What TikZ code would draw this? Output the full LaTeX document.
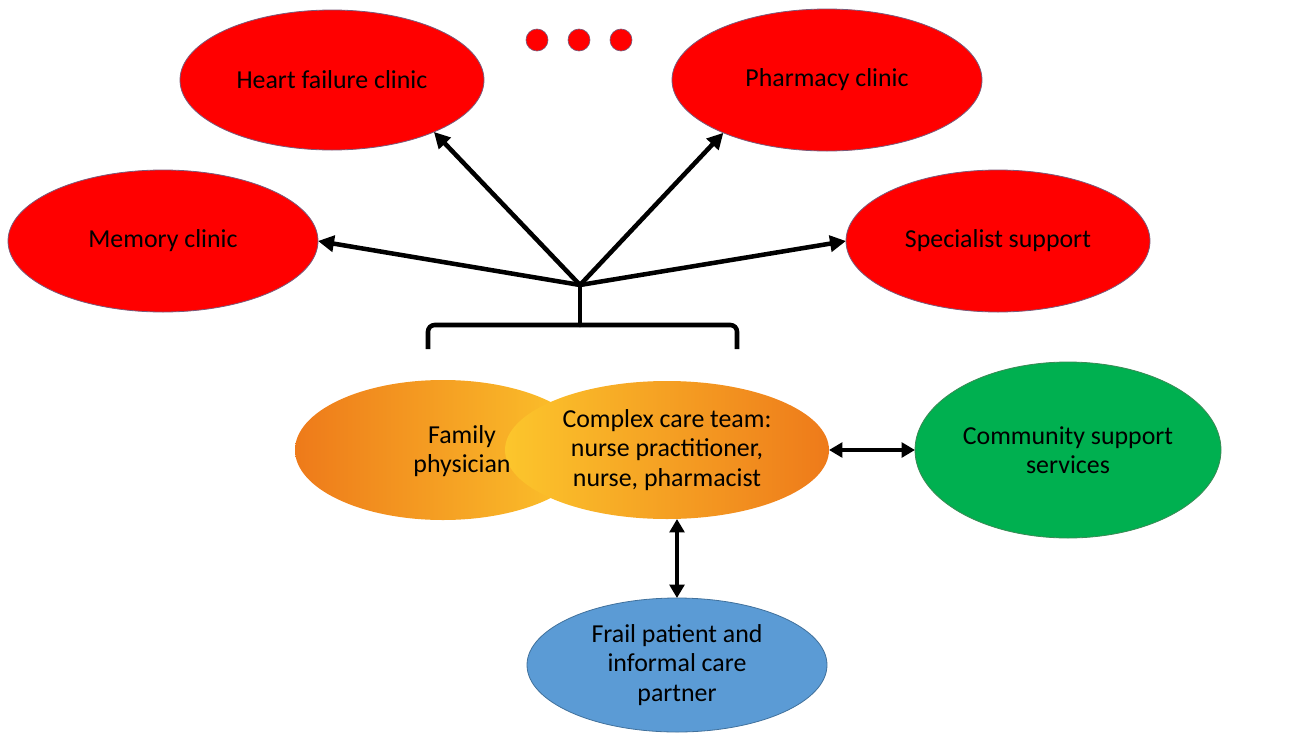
\documentclass[tikz,border=0pt]{standalone}
\usepackage{fontspec}
\setmainfont{Carlito}
\usetikzlibrary{shapes.geometric,arrows.meta}
\definecolor{clinicred}{HTML}{FF0000}
\definecolor{clinicedge}{HTML}{7A5A7A}
\definecolor{commgreen}{HTML}{00B050}
\definecolor{greenedge}{HTML}{3A8A55}
\definecolor{patblue}{HTML}{5B9BD5}
\definecolor{blueedge}{HTML}{41719C}
\definecolor{deeporange}{HTML}{EE7A1A}
\definecolor{warmyellow}{HTML}{FCC62C}
\begin{document}
\begin{tikzpicture}[x=0.75pt,y=-0.75pt,
  lbl/.style={font=\fontsize{19.4}{22.2}\selectfont, align=center, text=black},
  oval/.style={ellipse, inner sep=0pt, outer sep=0pt, line width=0.6pt, lbl},
  clinic/.style={oval, fill=clinicred, draw=clinicedge},
  dotc/.style={circle, fill=clinicred, draw=clinicedge, line width=0.5pt, minimum size=16.5pt, inner sep=0pt},
  conn/.style={line width=3.4pt, line cap=round, -{Triangle[length=12pt,width=12pt]}},
  both/.style={line width=3.4pt, {Triangle[length=10pt,width=11pt]}-{Triangle[length=10pt,width=11pt]}},
  plain/.style={line width=3.4pt, line cap=round}]
\useasboundingbox (0,0) rectangle (1293,736);

% red clinic ellipses
\node[clinic, minimum width=228pt, minimum height=105pt] (heart) at (332,80) {Heart failure clinic};
\node[clinic, minimum width=232.5pt, minimum height=106.5pt] (mem) at (163,241) {Memory clinic};
\node[clinic, minimum width=232.5pt, minimum height=106.5pt] (pharm) at (827,80) {Pharmacy clinic};
\node[clinic, minimum width=228pt, minimum height=106.5pt] (spec) at (998,241) {Specialist support};

% dots
\node[dotc] (d1) at (537,40) {};
\node[dotc] (d2) at (579,40) {};
\node[dotc] (d3) at (621,40) {};

% orange overlapping ellipses
\node[ellipse, inner sep=0pt, outer sep=0pt, minimum width=222pt, minimum height=105pt,
      left color=deeporange, right color=warmyellow] (fam) at (443,450) {};
\node[ellipse, inner sep=0pt, outer sep=0pt, minimum width=243pt, minimum height=103.5pt,
      left color=warmyellow, right color=deeporange, lbl] (cct) at (667,450)
      {Complex care team:\\nurse practitioner,\\nurse, pharmacist};
\node[lbl] (famtext) at (462,451) {Family\\physician};

% green and blue
\node[oval, fill=commgreen, draw=greenedge, minimum width=229.5pt, minimum height=132pt] (comm) at (1068,450) {Community support\\services};
\node[oval, fill=patblue, draw=blueedge, minimum width=225pt, minimum height=100.5pt] (pat) at (677,665) {Frail patient and\\informal care\\partner};

% hub, stem and bracket
\coordinate (hub) at (580,285);
\coordinate (stem) at (580,325);
\coordinate (bl) at (428,349);
\coordinate (br) at (737,349);
\draw[plain] (hub) -- (stem);
\draw[line width=3.4pt, rounded corners=5pt] (bl) -- (bl |- stem) -- (br |- stem) -- (br);

% arrows to clinics
\draw[conn] (hub) -- (mem.east);
\draw[conn] (hub) -- (heart.-27);
\draw[conn] (hub) -- (pharm.207);
\draw[conn] (hub) -- (spec.west);

% double arrows
\draw[both] (cct.east) -- (comm.west);
\draw[both] (cct.south -| pat.north) -- (pat.north);
\end{tikzpicture}
\end{document}
